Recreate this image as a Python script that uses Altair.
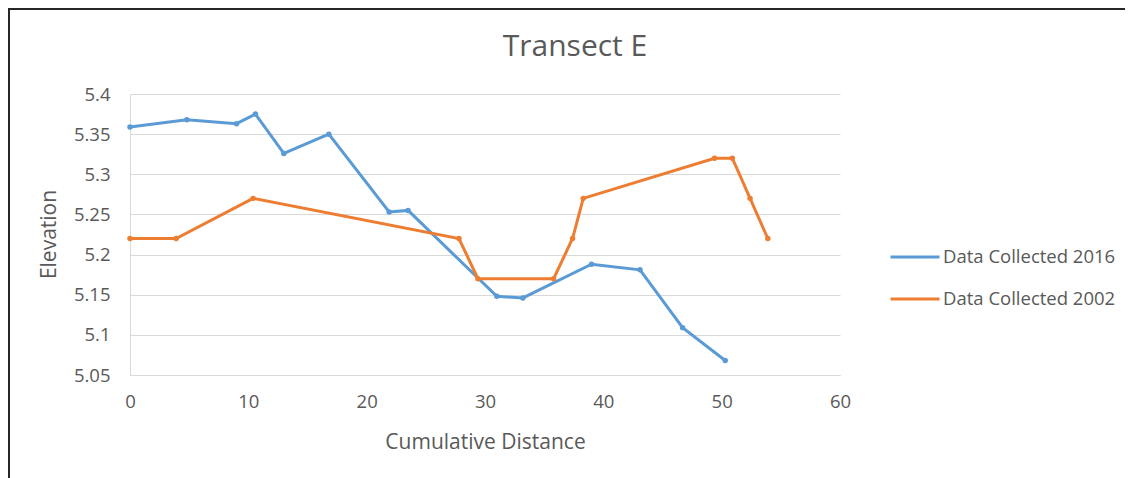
import altair as alt
import pandas as pd

# Data Collected 2016
dist_2016 = [0, 4.8, 9.0, 10.6, 13.0, 16.8, 21.9, 23.5, 31.0, 33.2, 39.0, 43.1, 46.7, 50.3]
elev_2016 = [5.359, 5.368, 5.363, 5.375, 5.326, 5.350, 5.253, 5.255, 5.148, 5.146, 5.188, 5.181, 5.109, 5.068]

# Data Collected 2002
dist_2002 = [0, 3.9, 10.4, 27.8, 29.4, 35.8, 37.4, 38.3, 49.4, 50.9, 52.4, 53.9]
elev_2002 = [5.22, 5.22, 5.27, 5.22, 5.17, 5.17, 5.22, 5.27, 5.32, 5.32, 5.27, 5.22]

series_names = ["Data Collected 2016", "Data Collected 2002"]
series_colors = ["#5B9BD5", "#ED7D31"]
y_ticks = [5.05, 5.1, 5.15, 5.2, 5.25, 5.3, 5.35, 5.4]
x_ticks = [0, 10, 20, 30, 40, 50, 60]
chart_title = "Transect E"

df = pd.concat([
    pd.DataFrame({"dist": dist_2016, "elev": elev_2016, "series": series_names[0], "order": range(len(dist_2016))}),
    pd.DataFrame({"dist": dist_2002, "elev": elev_2002, "series": series_names[1], "order": range(len(dist_2002))}),
])

FONT = "Open Sans"
GRAY = "#595959"

color = alt.Color(
    "series:N",
    scale=alt.Scale(domain=series_names, range=series_colors),
    legend=alt.Legend(
        title=None,
        orient="none",
        legendX=759,
        legendY=137,
        symbolType="stroke",
        symbolSize=2401,
        symbolStrokeWidth=3,
        labelFont=FONT,
        labelFontSize=18.5,
        labelColor=GRAY,
        labelOffset=2,
        labelLimit=400,
        rowPadding=6,
    ),
)

x = alt.X(
    "dist:Q",
    scale=alt.Scale(domain=[0, 60], nice=False),
    axis=alt.Axis(
        values=x_ticks,
        title="Cumulative Distance",
        grid=False,
        ticks=False,
        labelFlush=False,
        labelPadding=17,
        titleY=73,
        titleBaseline="alphabetic",
    ),
)
y = alt.Y(
    "elev:Q",
    scale=alt.Scale(domain=[5.05, 5.4], nice=False, zero=False),
    axis=alt.Axis(
        values=y_ticks,
        format=".2~f",
        title="Elevation",
        grid=True,
        ticks=False,
        labelFlush=False,
        labelPadding=20,
        titleX=-75,
        titleY=140,
        titleAngle=270,
        titleAlign="center",
        titleBaseline="alphabetic",
    ),
)

lines = alt.Chart(df).mark_line(strokeWidth=3).encode(
    x=x, y=y, color=color, order="order:Q"
)
points = alt.Chart(df).mark_circle(size=30, opacity=1).encode(
    x="dist:Q", y="elev:Q",
    color=alt.Color("series:N", legend=None, scale=alt.Scale(domain=series_names, range=series_colors)),
)
border = alt.Chart(pd.DataFrame({"a": [0]})).mark_rect(
    fill="transparent", stroke="#262626", strokeWidth=2
).encode(x=alt.value(-121), x2=alt.value(1100), y=alt.value(-85), y2=alt.value(500))

title = alt.Chart(pd.DataFrame({"t": [chart_title]})).mark_text(
    font=FONT, fontSize=30, color=GRAY, align="center", baseline="alphabetic"
).encode(text="t:N", x=alt.value(445), y=alt.value(-38))

chart = alt.layer(border, title, lines, points).properties(
    width=710,
    height=281,
    autosize=alt.AutoSizeParams(type="none"),
    padding={"left": 122, "top": 86, "right": 285, "bottom": 103},
).configure_view(stroke=None).configure_axis(
    labelFont=FONT,
    labelFontSize=18.5,
    labelColor=GRAY,
    titleFont=FONT,
    titleFontSize=21,
    titleFontWeight="normal",
    titleColor=GRAY,
    domainColor="#D9D9D9",
    gridColor="#D9D9D9",
    gridWidth=1,
)

chart.save("out.html", embed_options={"renderer": "svg", "actions": False})
